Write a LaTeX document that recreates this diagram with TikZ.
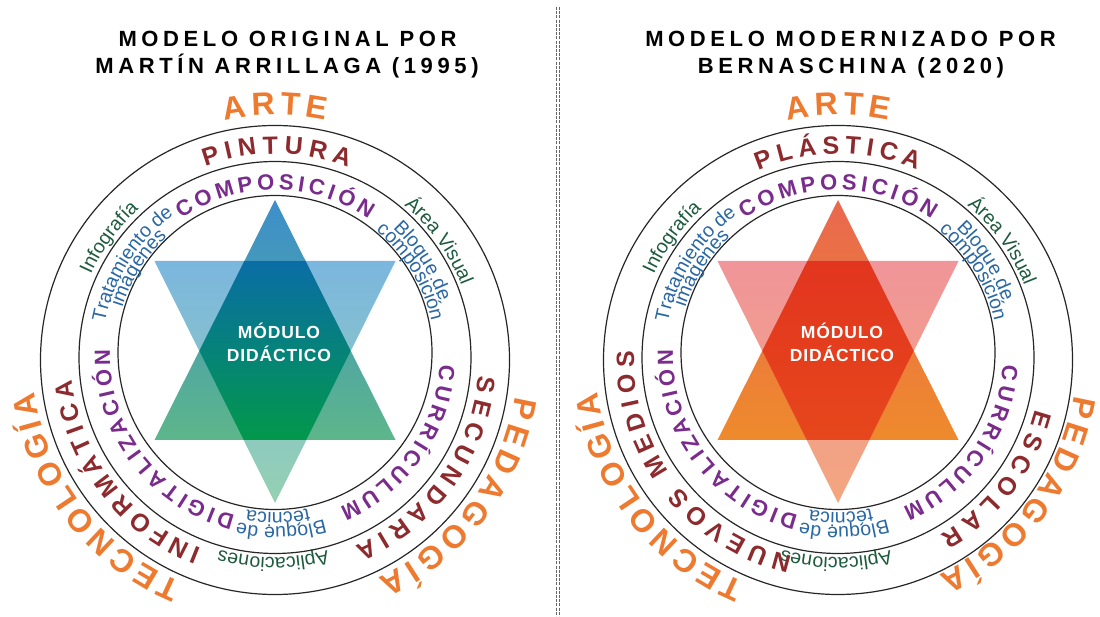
\documentclass[tikz,border=0pt]{standalone}
\usepackage{fontspec}
\setmainfont{Liberation Sans}
\newfontfamily\titlefont{Liberation Sans}[LetterSpace=21]
\newfontfamily\modfont{Liberation Sans}[LetterSpace=5]
\usetikzlibrary{decorations.text}

\definecolor{corange}{HTML}{EE7A30}
\definecolor{cred}{HTML}{8C2A2D}
\definecolor{cpurple}{HTML}{7A2C8C}
\definecolor{cblue}{HTML}{2A68A4}
\definecolor{cgreen}{HTML}{1E5B3E}
% star colours, left
\definecolor{lut}{HTML}{3C8ECB}
\definecolor{lub}{HTML}{5DB68A}
\definecolor{ldt}{HTML}{7BB6DF}
\definecolor{ldb}{HTML}{95D1B2}
\definecolor{lht}{HTML}{0A6DA6}
\definecolor{lhb}{HTML}{02984B}
% star colours, right
\definecolor{rut}{HTML}{E9684E}
\definecolor{rub}{HTML}{EE8A2C}
\definecolor{rdt}{HTML}{F09599}
\definecolor{rdb}{HTML}{F3A67F}
\definecolor{rht}{HTML}{E2351F}
\definecolor{rhb}{HTML}{E6471C}

\newcommand\fmtO{\fontsize{32}{32}\selectfont\bfseries\color{corange}}
\newcommand\fmtR{\fontsize{25}{25}\selectfont\bfseries\color{cred}}
\newcommand\fmtP{\fontsize{22}{22}\selectfont\bfseries\color{cpurple}}
\newcommand\fmtB{\fontsize{19.5}{19.5}\selectfont\color{cblue}}
\newcommand\fmtG{\fontsize{19.5}{19.5}\selectfont\color{cgreen}}

% text spread along a clockwise arc
\newcommand\ringtext[6]{%
  \path[decorate,decoration={text along path,text={|#5|#6},text align={fit to path}}]
    (#1) ++(#3:#2) arc[start angle=#3,end angle=#4,radius=#2];}
% text centred on a clockwise arc
\newcommand\ctrtext[5]{%
  \path[decorate,decoration={text along path,text={|#4|#5},text align={center}}]
    (#1) ++(#3+45:#2) arc[start angle=#3+45,end angle=#3-45,radius=#2];}

\tikzset{
  ring/.style={draw=black!85,line width=1.2pt},
  titletext/.style={anchor=base,font={\titlefont\bfseries\fontsize{22}{24}\selectfont},text=black},
  modtext/.style={anchor=base,font={\modfont\bfseries\fontsize{17.5}{19}\selectfont},text=white},
  divider/.style={draw=black!60,line width=0.8pt,dash pattern=on 3pt off 1.2pt}
}

% #1 x of centre, #2-#7 star colours, #8 radius of PEDAGOGIA
\newcommand\drawmodel[8]{%
\begin{scope}[shift={(#1,258)}]
  \coordinate (o) at (0,0);
  \coordinate (p) at (0,3);
  \shade[top color=#2,bottom color=#3] (0,158) -- (-120.5,-82) -- (120.5,-82) -- cycle;
  \shade[top color=#4,bottom color=#5] (-120.5,97) -- (120.5,97) -- (0,-145) -- cycle;
  \begin{scope}
    \clip (0,158) -- (-120.5,-82) -- (120.5,-82) -- cycle;
    \clip (-120.5,97) -- (120.5,97) -- (0,-145) -- cycle;
    \shade[top color=#6,bottom color=#7] (-130,97) rectangle (130,-82);
  \end{scope}
  \draw[ring] (0,-2) circle[radius=234.5];
  \draw[ring] (0,0.5) circle[radius=196];
  \draw[ring] (0,5.5) circle[radius=157];
  \node[modtext] (m1-#1) at (4,19) {MÓDULO};
  \node[modtext] (m2-#1) at (4,-4) {DIDÁCTICO};
  \ringtext{o}{243}{102}{78}{\fmtO}{ARTE}
  \ringtext{o}{#8}{-9}{-65}{\fmtO}{PEDAGOGÍA}
  \ringtext{o}{243}{247.5}{188}{\fmtO}{TECNOLOGÍA}
  \ringtext{p}{165}{124.5}{55.5}{\fmtP}{COMPOSICIÓN}
  \ringtext{p}{165}{256}{178}{\fmtP}{DIGITALIZACIÓN}
  \ringtext{p}{165}{-3.3}{-67}{\fmtP}{CURRÍCULUM}
  \ctrtext{o}{202}{144}{\fmtG}{Infografía}
  \ctrtext{o}{200}{35.5}{\fmtG}{Área Visual}
  \ctrtext{o}{199.5}{-90.5}{\fmtG}{Aplicaciones}
  \ctrtext{p}{173}{147.5}{\fmtB}{Tratamiento de}
  \ctrtext{p}{160}{147.5}{\fmtB}{imágenes}
  \ctrtext{p}{173}{32.5}{\fmtB}{Bloque de}
  \ctrtext{p}{160}{31.5}{\fmtB}{composición}
  \ctrtext{p}{172}{-88}{\fmtB}{Bloque de}
  \ctrtext{p}{157.5}{-89}{\fmtB}{técnica}
\end{scope}}

\begin{document}
\begin{tikzpicture}[x=1pt,y=1pt]
\useasboundingbox (0,0) rectangle (1100,616);
\fill[white] (0,0) rectangle (1100,616);

\coordinate (dtop1) at (556.5,609);
\coordinate (dbot1) at (556.5,0);
\coordinate (dtop2) at (559.5,609);
\coordinate (dbot2) at (559.5,0);
\draw[divider] (dtop1) -- (dbot1);
\draw[divider] (dtop2) -- (dbot2);

\node[titletext] (tl1) at (287.5,569) {MODELO ORIGINAL POR};
\node[titletext] (tl2) at (287,542) {MARTÍN ARRILLAGA (1995)};
\node[titletext] (tr1) at (850.5,569) {MODELO MODERNIZADO POR};
\node[titletext] (tr2) at (851,542) {BERNASCHINA (2020)};

\drawmodel{275}{lut}{lub}{ldt}{ldb}{lht}{lhb}{243}
\begin{scope}[shift={(275,258)}]
  \coordinate (o) at (0,0);
  \ringtext{o}{204}{110}{69}{\fmtR}{PINTURA}
  \ringtext{o}{204}{-5}{-67}{\fmtR}{SECUNDARIA}
  \ringtext{o}{204}{249}{186}{\fmtR}{INFORMÁTICA}
\end{scope}

\drawmodel{838}{rut}{rub}{rdt}{rdb}{rht}{rhb}{239}
\begin{scope}[shift={(838,258)}]
  \coordinate (o) at (0,0);
  \ringtext{o}{204}{113}{67}{\fmtR}{PLÁSTICA}
  \ringtext{o}{204}{-14.6}{-60}{\fmtR}{ESCOLAR}
  \ringtext{o}{204}{257}{178}{\fmtR}{NUEVOS MEDIOS}
\end{scope}
\end{tikzpicture}
\end{document}
